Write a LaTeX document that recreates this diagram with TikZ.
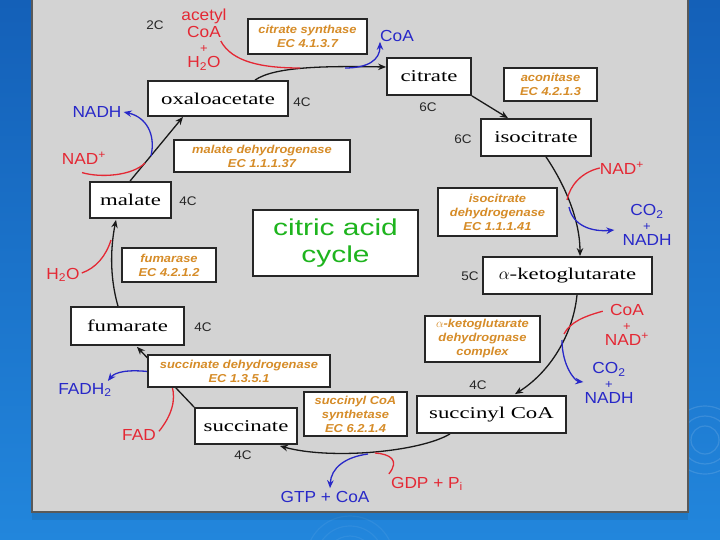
\documentclass[tikz,border=0pt]{standalone}
\usepackage{fontspec}
\usetikzlibrary{arrows.meta,calc}
\newfontfamily\boxfont[FakeStretch=1.38]{Liberation Serif}
\newfontfamily\lblfont[FakeStretch=1.08]{Liberation Sans}
\newfontfamily\enzfont[FakeStretch=1.12]{Liberation Sans}
\newfontfamily\greenfont[FakeStretch=1.3]{Liberation Sans}
\definecolor{rxred}{RGB}{228,40,52}
\definecolor{rxblue}{RGB}{40,40,200}
\definecolor{enzor}{RGB}{214,140,40}
\definecolor{cycgreen}{RGB}{30,180,30}
\definecolor{panelgray}{RGB}{211,211,211}
\definecolor{slidetop}{RGB}{20,96,184}
\definecolor{slidebot}{RGB}{34,134,220}
\pgfdeclarelayer{back}
\pgfdeclarelayer{conn}
\pgfsetlayers{back,conn,main}
\tikzset{
  metab/.style={draw=black!85, line width=1.8pt, fill=white, inner sep=0pt,
    font=\boxfont\fontsize{16.5}{18}\selectfont},
  enz/.style={draw=black!85, line width=1.8pt, fill=white, inner sep=0pt, align=center,
    text=enzor, font=\enzfont\bfseries\itshape\fontsize{11.5}{14}\selectfont},
  carb/.style={font=\lblfont\fontsize{12.5}{14}\selectfont, text=black!85, inner sep=0pt},
  redlbl/.style={font=\lblfont\fontsize{16}{15}\selectfont, text=rxred, align=center, inner sep=0pt},
  bluelbl/.style={font=\lblfont\fontsize{16}{15}\selectfont, text=rxblue, align=center, inner sep=0pt},
  flow/.style={draw=black!90, line width=1.3pt, -{Stealth[length=8pt,width=6.5pt]}},
  rin/.style={draw=rxred, line width=1.3pt},
  rout/.style={draw=rxblue, line width=1.3pt, -{Stealth[length=8pt,width=6.5pt]}},
}
\newcommand\smallplus{{\fontsize{12}{11}\selectfont +}}
\begin{document}
\begin{tikzpicture}[x=1pt,y=-1pt]
\useasboundingbox (0,0) rectangle (720,540);
\begin{pgfonlayer}{back}
  \shade[top color=slidetop, bottom color=slidebot] (0,0) rectangle (720,540);
  \foreach \r in {14,24,34}{
    \draw[white, opacity=0.12, line width=1.2pt] (705,440) circle (\r);
    \draw[white, opacity=0.06, line width=1.2pt] (350,560) circle (\r+10);
  }
  \fill[black, opacity=0.08] (32,512) rectangle (688,520);
  \filldraw[fill=panelgray, draw=black!65, line width=2pt] (32,-5) rectangle (688,512);
\end{pgfonlayer}

% metabolites
\node[metab, minimum width=84, minimum height=37] (citrate) at (429,76.5) {citrate};
\node[metab, minimum width=110, minimum height=37] (isocit) at (536,137.5) {isocitrate};
\node[metab, minimum width=169, minimum height=37] (akg) at (567.5,275.5) {$\alpha$-ketoglutarate};
\node[metab, minimum width=149, minimum height=37] (succoa) at (491.5,414.5) {succinyl CoA};
\node[metab, minimum width=102, minimum height=36] (succ) at (246,426) {succinate};
\node[metab, minimum width=113, minimum height=38] (fum) at (127.5,326) {fumarate};
\node[metab, minimum width=81, minimum height=36] (mal) at (130.5,200) {malate};
\node[metab, minimum width=140, minimum height=35] (oxalo) at (218,98.5) {oxaloacetate};

\node[draw=black!85, line width=1.8pt, fill=white, minimum width=165, minimum height=66,
  inner sep=0pt, align=center, text=cycgreen,
  font=\greenfont\fontsize{23}{27}\selectfont] (cycle) at (335.5,243) {citric acid\\cycle};

% enzymes
\node[enz, minimum width=119, minimum height=35] (cs) at (307.5,36.5) {citrate synthase\\EC 4.1.3.7};
\node[enz, minimum width=93, minimum height=33] (acon) at (550.5,84.5) {aconitase\\EC 4.2.1.3};
\node[enz, minimum width=119, minimum height=48] (idh) at (497.5,212) {isocitrate\\dehydrogenase\\EC 1.1.1.41};
\node[enz, minimum width=115, minimum height=46] (akgdh) at (482.5,339) {$\alpha$-ketoglutarate\\dehydrognase\\complex};
\node[enz, minimum width=103, minimum height=44] (scs) at (355.5,414) {succinyl CoA\\synthetase\\EC 6.2.1.4};
\node[enz, minimum width=182, minimum height=32] (sdh) at (239,371) {succinate dehydrogenase\\EC 1.3.5.1};
\node[enz, minimum width=94, minimum height=34] (fuma) at (169,265) {fumarase\\EC 4.2.1.2};
\node[enz, minimum width=176, minimum height=32] (mdh) at (262,156) {malate dehydrogenase\\EC 1.1.1.37};

% carbon counts
\node[carb] (c2) at (155,25) {2C};
\node[carb] (c6a) at (428,107) {6C};
\node[carb] (c6b) at (463,139) {6C};
\node[carb] (c5) at (470,276) {5C};
\node[carb] (c4a) at (478,385) {4C};
\node[carb] (c4b) at (243,455) {4C};
\node[carb] (c4c) at (203,327) {4C};
\node[carb] (c4d) at (188,201) {4C};
\node[carb] (c4e) at (302,102) {4C};

% side reactants / products
\node[redlbl] (acetyl) at (204,40) {acetyl\\[2pt]CoA\\\smallplus\\H\textsubscript{2}O};
\node[bluelbl] (coa1) at (397,36) {CoA};
\node[redlbl] (nad1) at (622,168) {NAD\textsuperscript{+}};
\node[bluelbl] (co2a) at (647,225) {CO\textsubscript{2}\\\smallplus\\NADH};
\node[redlbl] (coanad) at (627,325) {CoA\\\smallplus\\NAD\textsuperscript{+}};
\node[bluelbl] (co2b) at (609,383) {CO\textsubscript{2}\\\smallplus\\NADH};
\node[redlbl] (gdp) at (427,484) {GDP + P\textsubscript{i}};
\node[bluelbl] (gtp) at (325,497) {GTP + CoA};
\node[redlbl] (fad) at (139,435) {FAD};
\node[bluelbl] (fadh) at (85,390) {FADH\textsubscript{2}};
\node[redlbl] (h2o) at (63,275) {H\textsubscript{2}O};
\node[redlbl] (nad2) at (84,158) {NAD\textsuperscript{+}};
\node[bluelbl] (nadh2) at (97,112) {NADH};

% merge points on the main arrows
\coordinate (m1) at (300,68);
\coordinate (s1) at (345,68);
\coordinate (m2) at (567,200);
\coordinate (s2) at (569,207);
\coordinate (m3) at (564,334);
\coordinate (s3) at (562,340);
\coordinate (m4) at (375,453);
\coordinate (s4) at (368,454);
\coordinate (s5) at (152,372);
\coordinate (m5) at (172,386);
\coordinate (m6) at (111,240);
\coordinate (m7) at (145,163);
\coordinate (s7) at (151,156);

\begin{pgfonlayer}{conn}
  % main cycle
  \draw[flow] ($(oxalo.north)+(37,0)$) .. controls (275,66) and (330,66) .. ($(citrate.west)+(0,-9.5)$);
  \draw[flow] (citrate.south east) -- ($(isocit.north)+(-28,0)$);
  \draw[flow] ($(isocit.south)+(10,0)$) .. controls (565,185) and (580,220) .. ($(akg.north)+(12.5,0)$);
  \draw[flow] ($(akg.south)+(9.5,0)$) .. controls (573,335) and (550,372) .. ($(succoa.north)+(23.5,-1)$);
  \draw[flow] ($(succoa.south)+(-41.5,0)$) .. controls (420,452) and (330,460) .. ($(succ.south east)+(-18,1)$);
  \draw[flow] (succ.north west) -- ($(fum.south)+(9.5,1)$);
  \draw[flow] ($(fum.north)+(-9.5,0)$) .. controls (109,275) and (111,245) .. ($(mal.south)+(-14.5,1)$);
  \draw[flow] ($(mal.north)+(-0.5,0)$) -- ($(oxalo.south)+(-35,0)$);
  % side reactions
  \draw[rin] ($(acetyl.east)+(-6,1)$) .. controls (232,62) and (262,68) .. (m1);
  \draw[rout] (s1) .. controls (368,68) and (380,60) .. (coa1.south west);
  \draw[rin] (nad1.west) .. controls (582,172) and (570,185) .. (m2);
  \draw[rout] (s2) .. controls (573,226) and (592,232) .. ($(co2a.west)+(-8,5)$);
  \draw[rin] ($(coanad.north west)+(-2,7)$) .. controls (585,316) and (570,322) .. (m3);
  \draw[rout] (s3) .. controls (562,366) and (575,381) .. ($(co2b.west)+(-1,-1)$);
  \draw[rin] ($(gdp.north west)+(-2,-3)$) .. controls (400,460) and (390,454) .. (m4);
  \draw[rout] (s4) .. controls (345,457) and (331,468) .. ($(gtp.north)+(5,-3)$);
  \draw[rout] (s5) .. controls (128,369) and (115,372) .. ($(fadh.north east)+(-4,-2)$);
  \draw[rin] ($(fad.north east)+(3,2)$) .. controls (172,415) and (176,400) .. (m5);
  \draw[rin] ($(h2o.east)+(2,-2)$) .. controls (96,268) and (106,256) .. (m6);
  \draw[rin] ($(nad2.south)+(-2,8)$) .. controls (100,178) and (132,176) .. (m7);
  \draw[rout] (s7) .. controls (156,134) and (146,117) .. ($(nadh2.east)+(2,0)$);
\end{pgfonlayer}
\end{tikzpicture}
\end{document}
